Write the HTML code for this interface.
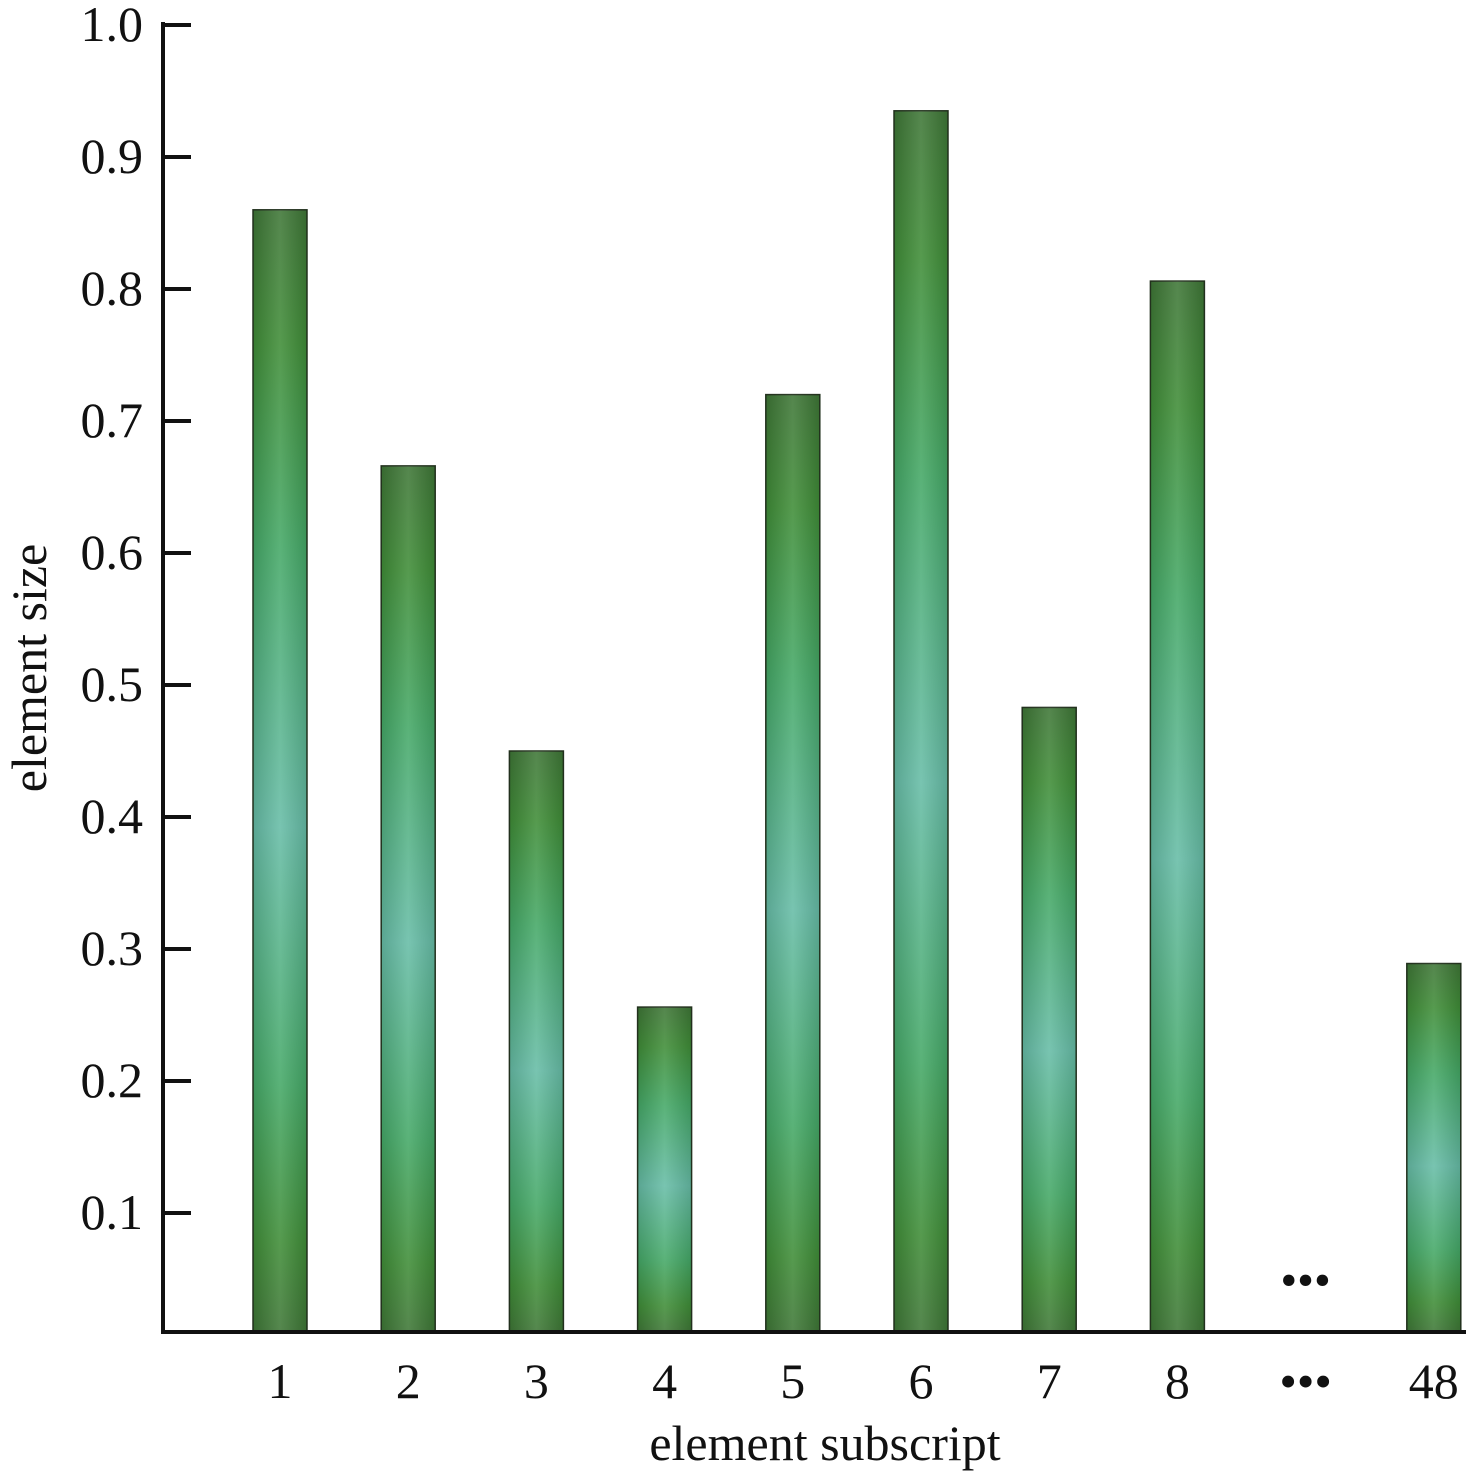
<!DOCTYPE html>
<html><head><meta charset="utf-8"><style>
html,body{margin:0;padding:0;background:#fff;}
svg{display:block;}
text{font-family:"Liberation Serif",serif;fill:#111;}
</style></head><body>
<svg id="chart" width="1473" height="1479" viewBox="0 0 1473 1479">
<defs>
<linearGradient id="gv" x1="0" y1="0" x2="0" y2="1">
<stop offset="0" stop-color="#3e7636"/>
<stop offset="0.12" stop-color="#3f8d37"/>
<stop offset="0.3" stop-color="#44a866"/>
<stop offset="0.55" stop-color="#66bca6"/>
<stop offset="0.78" stop-color="#44a866"/>
<stop offset="0.92" stop-color="#3f8d37"/>
<stop offset="1" stop-color="#3e7636"/>
</linearGradient>
<linearGradient id="gh" x1="0" y1="0" x2="1" y2="0">
<stop offset="0" stop-color="#000" stop-opacity="0.12"/>
<stop offset="0.5" stop-color="#fff" stop-opacity="0.12"/>
<stop offset="1" stop-color="#000" stop-opacity="0.12"/>
</linearGradient>
</defs>
<g id="bars"></g>
<g id="axes"></g>
</svg>
<script>
const categories=["1","2","3","4","5","6","7","8","…","48"];
const values=[0.86,0.666,0.45,0.256,0.72,0.935,0.483,0.806,null,0.289];
const yTicks=[0.1,0.2,0.3,0.4,0.5,0.6,0.7,0.8,0.9,1.0];
const yTickLabels=["0.1","0.2","0.3","0.4","0.5","0.6","0.7","0.8","0.9","1.0"];

const NS="http://www.w3.org/2000/svg";
const y=v=>1345-v*1320;
const x=i=>280+i*128.2;
const bw=54;
function mk(tag,attrs,parent){const e=document.createElementNS(NS,tag);for(const k in attrs)e.setAttribute(k,attrs[k]);parent.appendChild(e);return e;}
const bars=document.getElementById('bars'),axes=document.getElementById('axes');
values.forEach((v,i)=>{
  if(v===null){
    const d=mk('text',{x:x(i),y:1296,'text-anchor':'middle','font-size':48},bars);
    d.textContent='•••';
    
    
    return;
  }
  const top=y(v),h=1332-top;
  const r=mk('rect',{x:x(i)-bw/2,y:top,width:bw,height:h,fill:'url(#gv)',stroke:'#24331f','stroke-width':1.5},bars);
  
  
  const o=mk('rect',{x:x(i)-bw/2,y:top,width:bw,height:h,fill:'url(#gh)'},bars);
  
  
});
const ya=mk('line',{x1:163,y1:22,x2:163,y2:1334,stroke:'#111','stroke-width':4},axes);


const xa=mk('line',{x1:161,y1:1332,x2:1466,y2:1332,stroke:'#111','stroke-width':4},axes);


yTicks.forEach((t,i)=>{
  const tk=mk('line',{x1:163,y1:y(t),x2:191,y2:y(t),stroke:'#111','stroke-width':4},axes);
  
  
  const l=mk('text',{x:143,y:y(t)+16,'text-anchor':'end','font-size':50},axes);
  l.textContent=yTickLabels[i];
  
  
});
categories.forEach((c,i)=>{
  const l=mk('text',{x:x(i),y:1398,'text-anchor':'middle','font-size':50},axes);
  l.textContent=c==='…'?'•••':c;
  
  
});
const xt=mk('text',{x:825,y:1460,'text-anchor':'middle','font-size':50},axes);
xt.textContent='element subscript';


const yt=mk('text',{x:0,y:0,'text-anchor':'middle','font-size':50,transform:'translate(46,668) rotate(-90)'},axes);
yt.textContent='element size';


</script>
</body></html>
